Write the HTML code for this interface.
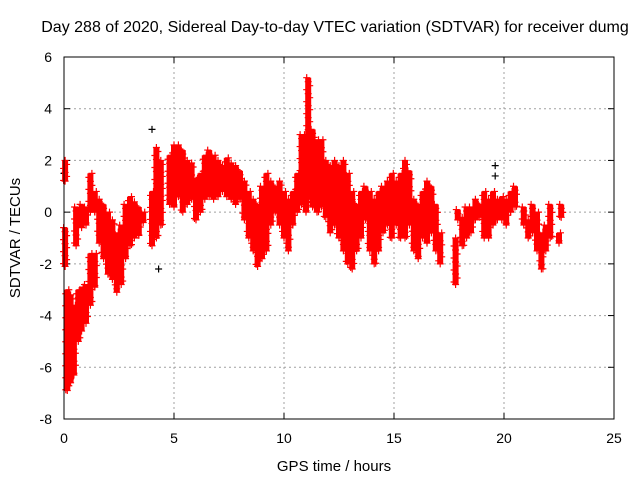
<!DOCTYPE html>
<html><head><meta charset="utf-8"><style>
html,body{margin:0;padding:0;background:#fff}
svg{display:block;font-family:"Liberation Sans",sans-serif}
</style></head><body>
<svg id="chart" width="640" height="480" viewBox="0 0 640 480">
<text x="335" y="32" font-size="16" text-anchor="middle">Day 288 of 2020, Sidereal Day-to-day VTEC variation (SDTVAR) for receiver dumg</text>
<text x="334" y="471" font-size="15" text-anchor="middle">GPS time / hours</text>
<text x="20" y="238" font-size="15" text-anchor="middle" transform="rotate(-90 20 238)">SDTVAR / TECUs</text>
<g id="grid"></g>
<g id="ticks"></g>
<g id="marks"></g>
<rect x="64" y="57" width="550" height="362" fill="none" stroke="#000" stroke-width="1"/>
</svg>
<script>
const xTicks = [0,5,10,15,20,25];
const yTicks = [6,4,2,0,-2,-4,-6,-8];
const segT  = [0.05,0.05,0.15,0.3,0.45,0.55,0.65,0.8,0.8,1.0,1.0,1.2,1.2,1.4,1.4,1.6,1.8,2.0,2.2,2.4,2.6,2.8,3.0,3.2,3.4,3.6,4.0,4.2,4.4,4.8,5.0,5.2,5.4,5.6,5.8,6.0,6.2,6.4,6.6,6.8,7.0,7.2,7.4,7.6,7.8,8.0,8.2,8.4,8.6,8.8,9.0,9.2,9.4,9.6,9.8,10.0,10.2,10.4,10.6,10.8,11.0,11.1,11.3,11.5,11.7,11.9,12.1,12.3,12.5,12.7,12.9,13.1,13.3,13.5,13.7,13.9,14.1,14.3,14.5,14.7,14.9,15.1,15.3,15.5,15.7,15.9,16.1,16.3,16.5,16.7,16.9,17.1,17.8,17.9,18.1,18.3,18.5,18.7,18.9,19.1,19.3,19.5,19.7,19.9,20.1,20.3,20.5,20.9,21.1,21.3,21.5,21.7,21.9,22.1,22.5,22.6];
const segLo = [1.2,-2.1,-6.9,-6.6,-6.3,-1.3,-5.0,-4.6,-0.6,-4.3,-0.5,-3.6,0.0,-2.9,0.0,-1.2,-1.8,-2.4,-2.6,-3.1,-2.8,-1.8,-1.3,-1.0,-0.9,-0.4,-1.3,-1.0,-0.5,0.3,0.2,0.6,0.0,0.3,0.5,-0.3,0.0,0.5,0.6,0.5,0.6,0.8,0.6,0.5,0.3,0.5,-0.3,-1.0,-1.5,-2.1,-1.8,-1.5,-0.5,0.0,-0.5,-1.0,-1.5,-0.5,0.0,0.3,0.0,0.5,0.2,0.0,0.2,-0.2,-0.8,-0.5,-1.0,-1.5,-2.0,-2.2,-1.5,-1.0,-0.3,-1.5,-2.0,-1.5,-0.8,-0.5,-1.0,-0.5,-1.0,-1.0,-0.5,-1.5,-1.8,-1.0,-1.2,-0.8,-1.5,-2.0,-2.8,-0.3,-1.3,-1.0,-0.8,-0.3,-0.2,-1.0,-1.0,-0.5,-0.3,-0.3,-0.5,0.0,0.2,-0.5,-1.0,-0.8,-1.5,-2.2,-1.5,-1.0,-1.2,-0.2];
const segHi = [2.0,-0.6,-3.0,-3.2,-3.6,0.2,-3.0,-2.9,0.3,-2.8,0.2,-1.6,1.5,-1.6,0.8,0.5,0.3,0.0,-0.3,-0.8,-0.5,0.3,0.6,0.4,0.2,0.0,0.8,2.5,2.0,2.2,2.6,2.6,2.4,2.0,1.9,1.3,1.5,2.2,2.4,2.2,2.0,1.8,2.1,1.9,1.8,1.6,1.2,0.8,0.5,0.3,1.0,1.5,1.2,1.0,1.2,0.8,0.5,0.8,1.5,3.0,3.0,5.2,3.2,2.8,2.8,2.0,1.8,2.0,1.8,2.0,1.5,0.8,0.3,0.8,1.0,0.8,0.5,0.8,1.0,1.2,1.5,1.2,1.5,2.0,1.6,0.5,0.3,0.8,1.2,1.0,0.3,-0.8,-1.0,0.1,-0.2,0.2,0.2,0.5,0.3,0.8,0.5,0.8,0.5,0.6,0.5,0.8,1.0,0.2,-0.3,0.3,0.0,-0.8,-0.5,0.3,-0.8,0.3];
const blackT = [0.0,4.0,19.6,19.6,4.3];
const blackV = [1.5,3.2,1.8,1.4,-2.2];

const NS='http://www.w3.org/2000/svg';
const X0=64,X1=614,Y0=419,Y1=57;
function sx(t){return X0+(t-0)/(25-0)*(X1-X0);}
function sy(v){return Y0-(v-(-8))/(6-(-8))*(Y0-Y1);}
function mk(tag,attrs,parent){const e=document.createElementNS(NS,tag);for(const k in attrs)e.setAttribute(k,attrs[k]);parent.appendChild(e);return e;}
const grid=document.getElementById('grid'),ticks=document.getElementById('ticks'),marks=document.getElementById('marks');
xTicks.forEach(t=>{
  const x=sx(t);
  if(t>0&&t<25){const l=mk('line',{x1:x,x2:x,y1:Y1,y2:Y0,stroke:'#a0a0a0','stroke-dasharray':'2,3'},grid);
  
  }
  mk('line',{x1:x,x2:x,y1:Y0,y2:Y0-6,stroke:'#000'},ticks);
  mk('line',{x1:x,x2:x,y1:Y1,y2:Y1+6,stroke:'#000'},ticks);
  const tx=mk('text',{x:x,y:443,'font-size':14,'text-anchor':'middle'},ticks);tx.textContent=t;
  
  
});
yTicks.forEach(v=>{
  const y=sy(v);
  if(v>-8&&v<6){const l=mk('line',{x1:X0,x2:X1,y1:y,y2:y,stroke:'#a0a0a0','stroke-dasharray':'2,3'},grid);
  
  }
  mk('line',{x1:X0,x2:X0+6,y1:y,y2:y,stroke:'#000'},ticks);
  mk('line',{x1:X1,x2:X1-6,y1:y,y2:y,stroke:'#000'},ticks);
  const tx=mk('text',{x:52,y:y+5,'font-size':14,'text-anchor':'end'},ticks);tx.textContent=v;
  
  
});
function plus(x,y,color,parent){
  mk('path',{d:`M${x-3.5} ${y}H${x+3.5}M${x} ${y-3.5}V${y+3.5}`,stroke:color,'stroke-width':1.2,fill:'none'},parent);
}
blackT.forEach((t,i)=>{plus(sx(t),sy(blackV[i]),'#000',marks);});
segT.forEach((t,i)=>{
  const x=sx(t),ya=sy(segHi[i]),yb=sy(segLo[i]);
  const g=mk('g',{},marks);
  
  
  mk('rect',{x:x-3,y:ya,width:6,height:Math.max(1,yb-ya),fill:'#ff0000'},g);
  for(let y=ya;y<=yb;y+=4){plus(x+((Math.round(y)%3)-1)*1.5,y,'#ff0000',g);}
  plus(x,yb,'#ff0000',g);
});
</script>
</body></html>
